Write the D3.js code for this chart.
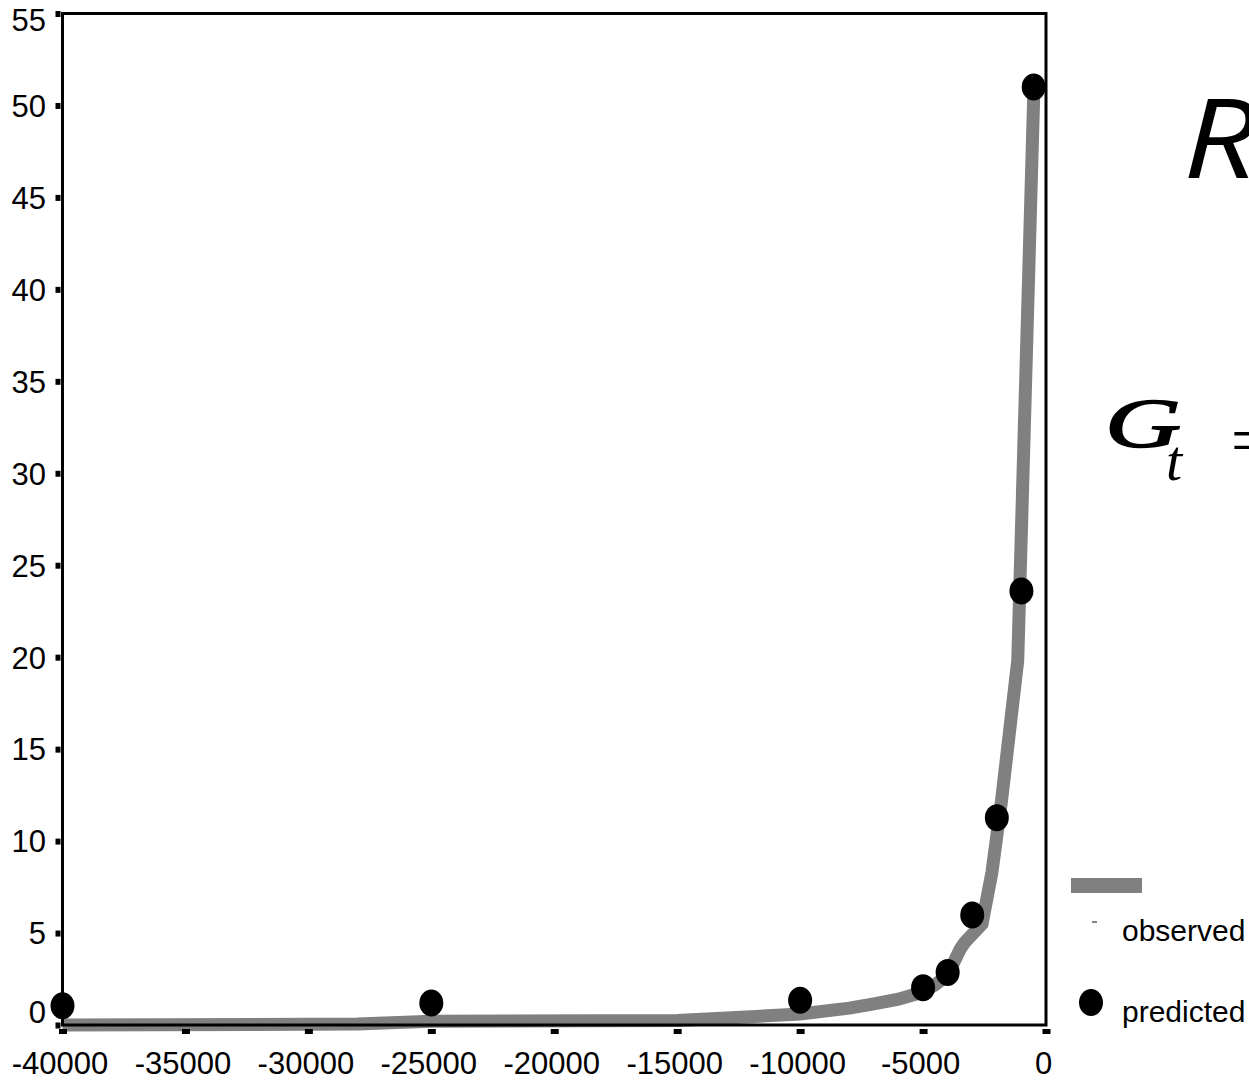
<!DOCTYPE html>
<html>
<head>
<meta charset="utf-8">
<script src="https://cdn.jsdelivr.net/npm/d3@7"></script>
<style>
  html, body { margin: 0; padding: 0; background: #fff; }
  svg { display: block; }
  text { font-family: "Liberation Sans", Arial, sans-serif; fill: #000; }
</style>
</head>
<body>
<svg id="chart" width="1249" height="1080"></svg>
<script>
// Observed series (grey line)
const observedX = [-40000, -28000, -25000, -15000, -12000, -10000, -8000, -7000, -6000, -5000, -4500, -4000, -3500, -3300, -2600, -2200, -1800, -1150, -500];
const observedY = [0, 0.05, 0.2, 0.25, 0.45, 0.6, 0.92, 1.15, 1.4, 1.8, 2.2, 2.7, 4.1, 4.5, 5.5, 8.3, 12.3, 19.8, 50.5];

// Predicted series (black dots)
const predictedX = [-40000, -25000, -10000, -5000, -4000, -3000, -2000, -1000, -500];
const predictedY = [1.05, 1.2, 1.35, 2.03, 2.86, 5.98, 11.27, 23.6, 51];

// Axis ticks
const xTicks = [-40000, -35000, -30000, -25000, -20000, -15000, -10000, -5000, 0];
const yTicks = [0, 5, 10, 15, 20, 25, 30, 35, 40, 45, 50, 55];

const legendLabels = ["observed", "predicted"];

(function drawChart() {
  const svg = d3.select("#chart");
  const plotLeft = 62.5, plotRight = 1046, plotTop = 13.5, plotBottom = 1025;
  const labelFont = "'Liberation Sans', Arial, sans-serif";

  const x = d3.scaleLinear().domain([-40000, 0]).range([plotLeft, plotRight]);
  const y = d3.scaleLinear().domain([0, 55]).range([plotBottom, plotTop]);

  // Observed line
  const line = d3.line().x(d => x(d[0])).y(d => y(d[1]));
  svg.append("path")
    .datum(observedX.map((v, i) => [v, observedY[i]]))
    .attr("d", line)
    .attr("fill", "none")
    .attr("stroke", "#808080")
    .attr("stroke-width", 13)
    .attr("stroke-linejoin", "miter");

  // Plot frame
  svg.append("rect")
    .attr("x", plotLeft).attr("y", plotTop)
    .attr("width", plotRight - plotLeft).attr("height", plotBottom - plotTop)
    .attr("fill", "none").attr("stroke", "#000").attr("stroke-width", 3);

  // Y axis
  const yAxis = svg.append("g")
    .attr("transform", `translate(${plotLeft},0)`)
    .call(d3.axisLeft(y).tickValues(yTicks).tickSize(7).tickFormat(d => String(d)));
  yAxis.select(".domain").remove();
  yAxis.selectAll(".tick line")
    .attr("x1", -2).attr("x2", -7)
    .attr("stroke", "#000").attr("stroke-width", 6);
  yAxis.selectAll(".tick text")
    .attr("x", -16.5)
    .attr("dy", d => d === 0 ? "-0.08em" : d === 55 ? "0.55em" : "0.35em")
    .style("font-size", "31px")
    .style("font-family", labelFont);

  // X axis
  const xAxis = svg.append("g")
    .attr("transform", `translate(0,${plotBottom})`)
    .call(d3.axisBottom(x).tickValues(xTicks).tickSize(9).tickFormat(d => String(d)));
  xAxis.select(".domain").remove();
  xAxis.selectAll(".tick line")
    .attr("y1", 4).attr("y2", 9)
    .attr("stroke", "#000").attr("stroke-width", 8);
  xAxis.selectAll(".tick text")
    .attr("y", 49).attr("dy", 0)
    .attr("dx", -3)
    .style("font-size", "31px")
    .style("font-family", labelFont);

  // Predicted dots
  svg.append("g").selectAll("ellipse")
    .data(predictedX.map((v, i) => [v, predictedY[i]]))
    .join("ellipse")
    .attr("cx", d => x(d[0]))
    .attr("cy", d => y(d[1]))
    .attr("rx", 12).attr("ry", 13.5)
    .attr("fill", "#000");

  // Formula fragments on the right
  svg.append("text")
    .attr("x", 1183).attr("y", 178)
    .attr("textLength", 74).attr("lengthAdjust", "spacingAndGlyphs")
    .style("font-family", "'Open Sans', 'Noto Sans', sans-serif")
    .style("font-style", "italic")
    .style("font-size", "110px")
    .text("R");

  svg.append("text")
    .attr("x", 1105).attr("y", 447)
    .attr("textLength", 76).attr("lengthAdjust", "spacingAndGlyphs")
    .attr("stroke", "#000").attr("stroke-width", 1.6)
    .style("font-family", "'Liberation Serif', 'Times New Roman', serif")
    .style("font-style", "italic")
    .style("font-size", "70px")
    .text("G");
  svg.append("text")
    .attr("x", 1166).attr("y", 480)
    .style("font-family", "'Liberation Serif', 'Times New Roman', serif")
    .style("font-style", "italic")
    .style("font-size", "58px")
    .text("t");
  svg.append("text")
    .attr("x", 1231).attr("y", 463)
    .style("font-family", "'Liberation Serif', 'Times New Roman', serif")
    .style("font-size", "68px")
    .text("=");

  // Legend
  const legend = svg.append("g");
  legend.append("rect")
    .attr("x", 1071).attr("y", 878).attr("width", 71).attr("height", 15)
    .attr("fill", "#808080");
  legend.append("rect")
    .attr("x", 1092).attr("y", 921).attr("width", 5).attr("height", 2)
    .attr("fill", "#808080");
  legend.append("text")
    .attr("x", 1122).attr("y", 941)
    .style("font-size", "30px")
    .text(legendLabels[0]);
  legend.append("ellipse")
    .attr("cx", 1091).attr("cy", 1002.5).attr("rx", 12).attr("ry", 13.5)
    .attr("fill", "#000");
  legend.append("text")
    .attr("x", 1122).attr("y", 1022)
    .style("font-size", "30px")
    .text(legendLabels[1]);
})();
</script>
</body>
</html>
